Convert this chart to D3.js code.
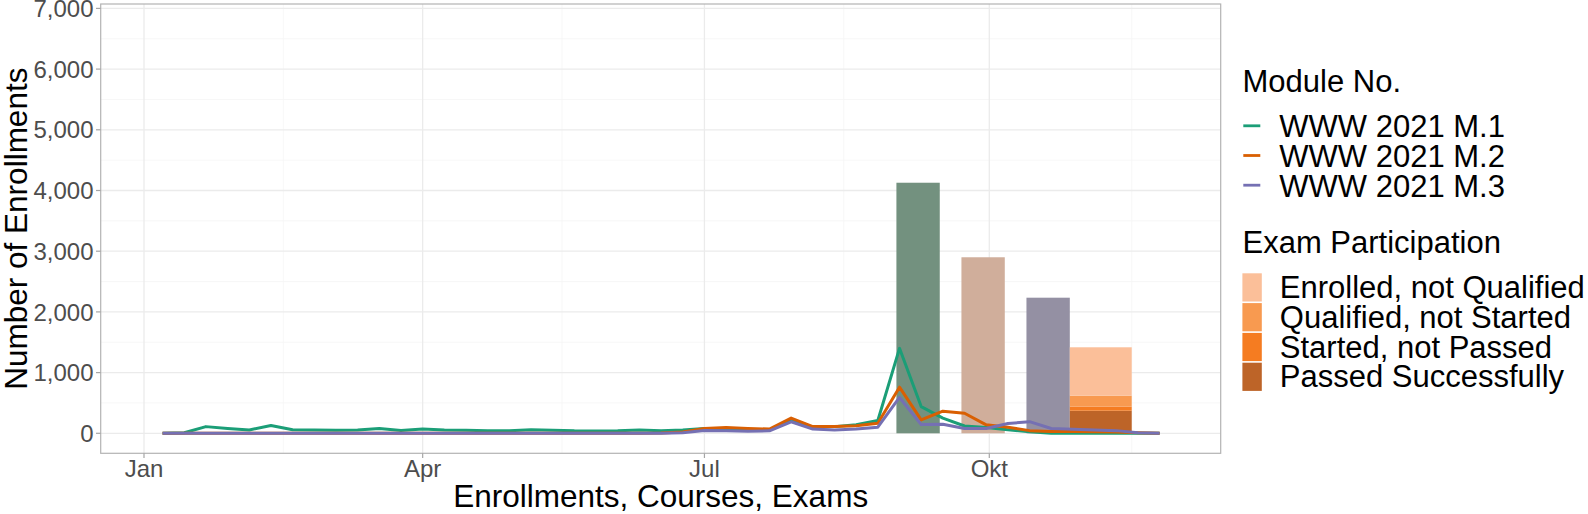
<!DOCTYPE html>
<html>
<head>
<meta charset="utf-8">
<script src="https://cdn.jsdelivr.net/npm/d3@7"></script>
<style>
  html, body { margin: 0; padding: 0; background: #fff; }
  svg { display: block; font-family: "Liberation Sans", Arial, Helvetica, sans-serif; }
</style>
</head>
<body>
<svg id="chart" width="1588" height="514"></svg>
<script>
// ---------------- DATA ----------------
const weeks = ["2021-01-07","2021-01-14","2021-01-21","2021-01-28","2021-02-04","2021-02-11","2021-02-18","2021-02-25",
  "2021-03-04","2021-03-11","2021-03-18","2021-03-25","2021-04-01","2021-04-08","2021-04-15","2021-04-22","2021-04-29",
  "2021-05-06","2021-05-13","2021-05-20","2021-05-27","2021-06-03","2021-06-10","2021-06-17","2021-06-24",
  "2021-07-01","2021-07-08","2021-07-15","2021-07-22","2021-07-29","2021-08-05","2021-08-12","2021-08-19","2021-08-26",
  "2021-09-02","2021-09-09","2021-09-16","2021-09-23","2021-09-30","2021-10-07","2021-10-14","2021-10-21","2021-10-28",
  "2021-11-04","2021-11-11","2021-11-18","2021-11-25"];

const m1 = [0,10,110,80,55,130,60,55,50,55,80,45,70,55,50,40,40,60,50,40,38,40,55,40,55,
  80,70,60,55,210,100,110,140,210,1400,440,250,120,95,60,25,0,0,0,0,0,0];
const m2 = [0,0,0,0,0,0,0,0,0,0,0,0,0,0,0,0,0,0,0,0,0,0,0,5,20,
  80,95,80,70,250,110,110,125,165,760,220,365,330,140,100,44,30,28,25,20,10,0];
const m3 = [0,0,0,0,0,0,0,0,0,0,0,0,0,0,0,0,0,0,0,0,0,0,0,0,10,
  45,40,35,40,190,70,55,70,100,590,145,148,80,80,160,192,80,66,55,44,11,0];

const moduleNames = ["WWW 2021 M.1","WWW 2021 M.2","WWW 2021 M.3"];
const moduleColors = ["#1b9e77","#d95f02","#7570b3"];

// exam periods (total enrolled per module exam)
const examStart = ["2021-09-01","2021-09-22","2021-10-13"];
const examEnd   = ["2021-09-15","2021-10-06","2021-10-27"];
const examTotal = [4128, 2900, 2234];
const examColors = ["#73917f","#d0ae9b","#9490a3"];

// exam participation (stacked)
const partStart = "2021-10-27";
const partEnd = "2021-11-16";
const partCategories = ["Enrolled, not Qualified","Qualified, not Started","Started, not Passed","Passed Successfully"];
const partValues = [797, 182, 66, 372];
const partColors = ["#fbbf99","#f89a50","#f57c21","#bd6428"];

const xTickDates = ["2021-01-01","2021-04-01","2021-07-01","2021-10-01"];
const xTickLabels = ["Jan","Apr","Jul","Okt"];
const xMinorDates = ["2021-02-15","2021-05-16","2021-08-15","2021-11-16"];
const yTicks = [0,1000,2000,3000,4000,5000,6000,7000];
const yMinor = [500,1500,2500,3500,4500,5500,6500];

// ---------------- LAYOUT ----------------
const svg = d3.select("#chart");
const P = {left: 100.7, right: 1220.7, top: 4, bottom: 453.3};
const parse = d3.utcParse("%Y-%m-%d");

const xCal = d3.scaleUtc().domain([parse("2021-01-01"), parse("2021-10-01")]).range([144, 989.3]);
const x = d3.scaleUtc().domain([xCal.invert(P.left), xCal.invert(P.right)]).range([P.left, P.right]);
const y = d3.scaleLinear().domain([0, 7000]).range([433.3, 8.4]);

// grid
const g = svg.append("g");
g.selectAll(".ymin").data(yMinor).join("line")
  .attr("x1", P.left).attr("x2", P.right).attr("y1", d => y(d)).attr("y2", d => y(d))
  .attr("stroke", "#f5f5f5").attr("stroke-width", 0.8);
g.selectAll(".xmin").data(xMinorDates).join("line")
  .attr("x1", d => x(parse(d))).attr("x2", d => x(parse(d))).attr("y1", P.top).attr("y2", P.bottom)
  .attr("stroke", "#f5f5f5").attr("stroke-width", 0.8);
g.selectAll(".ymaj").data(yTicks).join("line")
  .attr("x1", P.left).attr("x2", P.right).attr("y1", d => y(d)).attr("y2", d => y(d))
  .attr("stroke", "#ebebeb").attr("stroke-width", 1.3);
g.selectAll(".xmaj").data(xTickDates).join("line")
  .attr("x1", d => x(parse(d))).attr("x2", d => x(parse(d))).attr("y1", P.top).attr("y2", P.bottom)
  .attr("stroke", "#ebebeb").attr("stroke-width", 1.3);

// exam bars
const bars = svg.append("g");
bars.selectAll("rect.exam").data(examTotal).join("rect")
  .attr("x", (d, i) => x(parse(examStart[i])))
  .attr("width", (d, i) => x(parse(examEnd[i])) - x(parse(examStart[i])))
  .attr("y", d => y(d)).attr("height", d => y(0) - y(d))
  .attr("fill", (d, i) => examColors[i]);

// stacked participation (bottom: passed)
const stackOrder = [3, 2, 1, 0];
let cum = 0;
const stacks = stackOrder.map(k => { const s = {k, y0: cum, y1: cum + partValues[k]}; cum += partValues[k]; return s; });
bars.selectAll("rect.part").data(stacks).join("rect")
  .attr("x", x(parse(partStart)))
  .attr("width", x(parse(partEnd)) - x(parse(partStart)))
  .attr("y", d => y(d.y1)).attr("height", d => y(d.y0) - y(d.y1))
  .attr("fill", d => partColors[d.k]);

// lines
const series = [m1, m2, m3];
const line = d3.line().x((d, i) => x(parse(weeks[i]))).y(d => y(d));
svg.append("g").selectAll("path").data(series).join("path")
  .attr("d", d => line(d))
  .attr("fill", "none")
  .attr("stroke", (d, i) => moduleColors[i])
  .attr("stroke-width", 3)
  .attr("stroke-linejoin", "round");

// panel border
svg.append("rect").attr("x", P.left).attr("y", P.top)
  .attr("width", P.right - P.left).attr("height", P.bottom - P.top)
  .attr("fill", "none").attr("stroke", "#b3b3b3").attr("stroke-width", 1.2);

// y axis ticks & labels
const ya = svg.append("g");
ya.selectAll("line").data(yTicks).join("line")
  .attr("x1", P.left - 4.7).attr("x2", P.left).attr("y1", d => y(d)).attr("y2", d => y(d))
  .attr("stroke", "#a6a6a6").attr("stroke-width", 1.2);
ya.selectAll("text").data(yTicks).join("text")
  .attr("x", 93.5).attr("y", d => y(d) + 8.6)
  .attr("text-anchor", "end").attr("font-size", 24).attr("fill", "#4d4d4d")
  .text(d => d3.format(",")(d));

// x axis ticks & labels
const xa = svg.append("g");
xa.selectAll("line").data(xTickDates).join("line")
  .attr("x1", d => x(parse(d))).attr("x2", d => x(parse(d))).attr("y1", P.bottom).attr("y2", P.bottom + 4.7)
  .attr("stroke", "#a6a6a6").attr("stroke-width", 1.2);
xa.selectAll("text").data(xTickDates).join("text")
  .attr("x", d => x(parse(d))).attr("y", 477)
  .attr("text-anchor", "middle").attr("font-size", 24).attr("fill", "#4d4d4d")
  .text((d, i) => xTickLabels[i]);

// axis titles
svg.append("text").attr("x", (P.left + P.right) / 2).attr("y", 507)
  .attr("text-anchor", "middle").attr("font-size", 31.5).attr("fill", "#000")
  .text("Enrollments, Courses, Exams");
svg.append("text").attr("transform", `translate(27,${(P.top + P.bottom) / 2}) rotate(-90)`)
  .attr("text-anchor", "middle").attr("font-size", 31.5).attr("fill", "#000")
  .text("Number of Enrollments");

// legend: modules
const lg = svg.append("g");
lg.append("text").attr("x", 1242.5).attr("y", 91.7).attr("font-size", 31).text("Module No.");
const modKeyY = [125.8, 155.5, 185.2];
lg.selectAll("line.k").data(moduleNames).join("line")
  .attr("x1", 1243.3).attr("x2", 1260.3).attr("y1", (d, i) => modKeyY[i]).attr("y2", (d, i) => modKeyY[i])
  .attr("stroke", (d, i) => moduleColors[i]).attr("stroke-width", 2.8);
lg.selectAll("text.m").data(moduleNames).join("text")
  .attr("x", 1279.3).attr("y", (d, i) => modKeyY[i] + 11.3).attr("font-size", 31)
  .text(d => d);

// legend: exam participation
lg.append("text").attr("x", 1242.5).attr("y", 252.7).attr("font-size", 31).text("Exam Participation");
const partKeyTop = [273.3, 303.1, 332.9, 362.7];
lg.selectAll("rect.p").data(partCategories).join("rect")
  .attr("x", 1242.4).attr("width", 19.4)
  .attr("y", (d, i) => partKeyTop[i]).attr("height", 28.2)
  .attr("fill", (d, i) => partColors[i]);
lg.selectAll("text.p").data(partCategories).join("text")
  .attr("x", 1279.8).attr("y", (d, i) => partKeyTop[i] + 14.1 + 10.6).attr("font-size", 31)
  .text(d => d);
</script>
</body>
</html>
